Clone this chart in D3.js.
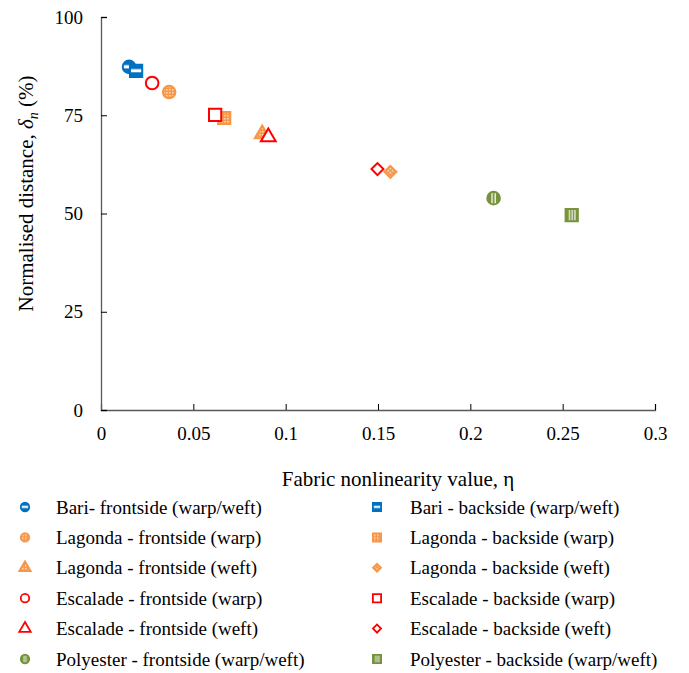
<html>
<head>
<meta charset="utf-8">
<script src="https://cdn.jsdelivr.net/npm/d3@7"></script>
</head>
<body style="margin:0">
<script>
// series, in legend order (left column first, then right column)
var seriesNames = [
  "Bari- frontside (warp/weft)", "Lagonda - frontside (warp)", "Lagonda - frontside (weft)",
  "Escalade - frontside (warp)", "Escalade - frontside (weft)", "Polyester - frontside (warp/weft)",
  "Bari - backside (warp/weft)", "Lagonda - backside (warp)", "Lagonda - backside (weft)",
  "Escalade - backside (warp)", "Escalade - backside (weft)", "Polyester - backside (warp/weft)"
];
var etaValues   = [0.0152, 0.0369, 0.0873, 0.0277, 0.0906, 0.2126, 0.0190, 0.0667, 0.1567, 0.0618, 0.1497, 0.2549];
var deltaValues = [87.3, 80.9, 70.5, 83.2, 69.7, 53.9, 86.3, 74.3, 60.6, 75.1, 61.3, 49.6];
var shapes  = ["circle", "circle", "triangle", "circle", "triangle", "circle",
               "square", "square", "diamond", "square", "diamond", "square"];
var colours = ["#0070c0", "#f79646", "#f79646", "#ff0000", "#ff0000", "#77933c",
               "#0070c0", "#f79646", "#f79646", "#ff0000", "#ff0000", "#77933c"];
var fills   = ["hband", "checker", "checker", "none", "none", "vline2",
               "hband", "checker", "checker", "none", "none", "vline3"];

var xTicks = [0, 0.05, 0.1, 0.15, 0.2, 0.25, 0.3];
var yTicks = [0, 25, 50, 75, 100];

var W = 689, H = 673;
var margin = {top: 17, right: 34, bottom: 263, left: 101};
var fontFam = "'Liberation Serif'";

var svg = d3.select("body").append("svg")
    .attr("width", W)
    .attr("height", H);

var x = d3.scaleLinear().domain([0, 0.3]).range([margin.left, W - margin.right]);
var y = d3.scaleLinear().domain([0, 100]).range([H - margin.bottom, margin.top]);

// fill patterns
var defs = svg.append("defs");
function makePattern(id) {
  return defs.append("pattern").attr("id", id)
    .attr("patternUnits", "objectBoundingBox")
    .attr("patternContentUnits", "objectBoundingBox")
    .attr("width", 1).attr("height", 1);
}
var ph = makePattern("hband");
ph.append("rect").attr("width", 1).attr("height", 1).attr("fill", "#0070c0");
ph.append("rect").attr("x", 0).attr("y", 0.36).attr("width", 1).attr("height", 0.26).attr("fill", "#fff");

var pv2 = makePattern("vline2");
pv2.append("rect").attr("width", 1).attr("height", 1).attr("fill", "#77933c");
[0.33, 0.58].forEach(function(v) {
  pv2.append("rect").attr("x", v).attr("y", 0).attr("width", 0.1).attr("height", 1).attr("fill", "#fff");
});
var pv3 = makePattern("vline3");
pv3.append("rect").attr("width", 1).attr("height", 1).attr("fill", "#77933c");
[0.28, 0.5, 0.72].forEach(function(v) {
  pv3.append("rect").attr("x", v).attr("y", 0).attr("width", 0.09).attr("height", 1).attr("fill", "#fff");
});
var pc = defs.append("pattern").attr("id", "checker")
  .attr("patternUnits", "userSpaceOnUse").attr("width", 3).attr("height", 3);
pc.append("rect").attr("width", 3).attr("height", 3).attr("fill", "#f79646");
pc.append("rect").attr("width", 1.5).attr("height", 1.5).attr("fill", "#fde3cc");

// axes
var xAxis = svg.append("g")
    .attr("transform", "translate(0," + y(0) + ")")
    .call(d3.axisBottom(x).tickValues(xTicks).tickSize(-6).tickFormat(d3.format("")).tickPadding(16));
var yAxis = svg.append("g")
    .attr("transform", "translate(" + x(0) + ",0)")
    .call(d3.axisLeft(y).tickValues(yTicks).tickSize(-6).tickPadding(18));
[xAxis, yAxis].forEach(function(a) {
  a.attr("font-family", null).attr("font-size", null);
  a.select(".domain").attr("stroke", "#595959").attr("stroke-width", 1.3);
  a.selectAll(".tick line").attr("stroke", "#000");
  a.selectAll(".tick text")
      .style("font-family", fontFam)
      .style("font-size", "19px")
      .attr("fill", "#000");
});
xAxis.selectAll(".tick text").attr("dy", "0.75em");

// axis titles
svg.append("text")
    .attr("x", (x(0) + x(0.3)) / 2 + 20).attr("y", 486)
    .attr("text-anchor", "middle")
    .style("font-family", fontFam)
    .style("font-size", "21px")
    .text("Fabric nonlinearity value, η");

var yTitle = svg.append("text")
    .attr("transform", "translate(33," + (y(50) - 20) + ") rotate(-90)")
    .attr("text-anchor", "middle")
    .style("font-family", fontFam)
    .style("font-size", "21px");
yTitle.append("tspan").text("Normalised distance, ");
yTitle.append("tspan").style("font-style", "italic").text("δ");
yTitle.append("tspan").style("font-style", "italic").style("font-size", "14px").attr("dy", 5).text("n");
yTitle.append("tspan").attr("dy", -5).text(" (%)");

// marker shapes
function symbolFor(shape, s) {
  var types = {circle: d3.symbolCircle, square: d3.symbolSquare, triangle: d3.symbolTriangle, diamond: d3.symbolSquare};
  var sizes = {circle: 125, square: 150, triangle: 95, diamond: 72};
  return d3.symbol().type(types[shape]).size(sizes[shape] * s)();
}
function rot(i) { return shapes[i] === "diamond" ? " rotate(45)" : ""; }
function fillFor(i) {
  return fills[i] === "none" ? "#fff" : "url(#" + fills[i] + ")";
}

var idx = d3.range(seriesNames.length);

svg.append("g").selectAll("path")
  .data(idx)
  .join("path")
    .attr("transform", function(i) {
      var dy = shapes[i] === "triangle" ? 1 : 0;
      return "translate(" + x(etaValues[i]) + "," + (y(deltaValues[i]) + dy) + ")" + rot(i);
    })
    .attr("d", function(i) { return symbolFor(shapes[i], 1); })
    .attr("fill", fillFor)
    .attr("stroke", function(i) { return colours[i]; })
    .attr("stroke-width", 2);

// legend
var legend = svg.append("g").selectAll("g")
  .data(idx)
  .join("g")
    .attr("transform", function(i) {
      var col = i < 6 ? 0 : 1, row = i % 6;
      return "translate(" + (col ? 377 : 25) + "," + (507 + row * 30.4) + ")";
    });
legend.append("path")
    .attr("transform", rot)
    .attr("d", function(i) { return symbolFor(shapes[i], shapes[i] === "triangle" ? 0.6 : 0.45); })
    .attr("fill", fillFor)
    .attr("stroke", function(i) { return colours[i]; })
    .attr("stroke-width", 1.8);
legend.append("text")
    .attr("x", function(i) { return i < 6 ? 31 : 33; })
    .attr("dy", "0.35em")
    .style("font-family", fontFam)
    .style("font-size", "19px")
    .text(function(i) { return seriesNames[i]; });
</script>
</body>
</html>
